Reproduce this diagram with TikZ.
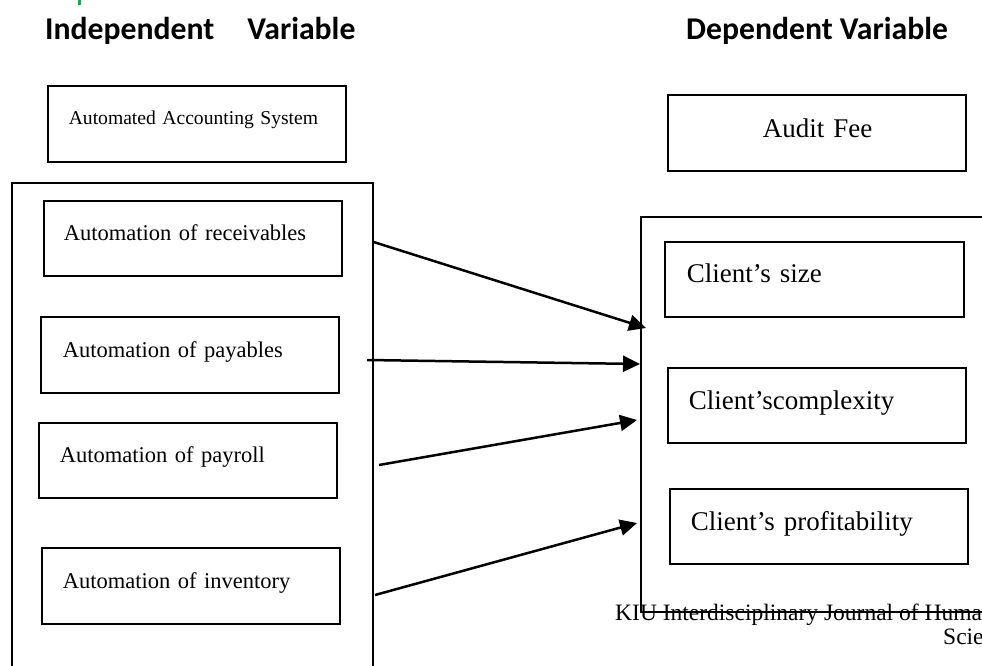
\documentclass[tikz,border=0pt]{standalone}
\usepackage{fontspec}
\setmainfont{Liberation Serif}
\newfontfamily\headfont{Carlito}
\usetikzlibrary{arrows.meta}
\definecolor{markgreen}{RGB}{0,176,80}
\begin{document}
\begin{tikzpicture}[x=1pt,y=-1pt,
  bx/.style={draw=black,line width=1.6pt,inner sep=0pt,anchor=north west,align=left},
  outerbox/.style={draw=black,line width=1.6pt,inner sep=0pt,anchor=north west},
  smalltxt/.style={font=\fontsize{22.5}{27}\selectfont},
  bigtxt/.style={font=\fontsize{27}{32}\selectfont},
  head/.style={font=\headfont\bfseries\fontsize{31.7}{36}\selectfont,inner sep=0pt,anchor=base west},
  arr/.style={line width=2.5pt,-{Triangle[length=17pt,width=16pt]}}]
\useasboundingbox (0,0) rectangle (982,666);
\clip (0,0) rectangle (982,666);
\fill[markgreen] (78,0) rectangle (81,5);
\node[head] (hl) at (45,40) {Independent\hspace{33pt}Variable};
\node[head] (hr) at (686,40) {Dependent Variable};
% left side
\node[bx,font=\fontsize{19.6}{24}\selectfont,text width=298pt,text height=39pt,text depth=37pt] (aas) at (47,85) {\hspace*{21pt}Automated Accounting System};
\node[outerbox,minimum width=361pt,minimum height=540pt] (L) at (11,182) {};
\node[bx,smalltxt,text width=298pt,text height=40pt,text depth=35pt] (rec) at (43,200) {\hspace*{20pt}Automation of receivables};
\node[bx,smalltxt,text width=298pt,text height=41pt,text depth=35pt] (pay) at (40,316) {\hspace*{22pt}Automation of payables};
\node[bx,smalltxt,text width=298pt,text height=40pt,text depth=35pt] (pr) at (38,422) {\hspace*{21pt}Automation of payroll};
\node[bx,smalltxt,text width=298pt,text height=41pt,text depth=35pt] (inv) at (41,547) {\hspace*{21pt}Automation of inventory};
% right side
\node[bx,bigtxt,text width=298pt,text height=43pt,text depth=33pt] (fee) at (667,94) {\hspace*{95pt}Audit Fee};
\node[outerbox,minimum width=400pt,minimum height=395pt] (R) at (640,216) {};
\node[bx,bigtxt,text width=299pt,text height=41pt,text depth=34pt] (size) at (664,241) {\hspace*{22pt}Client’s size};
\node[bx,bigtxt,text width=298pt,text height=42pt,text depth=33pt] (cx) at (667,367) {\hspace*{21pt}Client’scomplexity};
\node[bx,bigtxt,text width=298pt,text height=42pt,text depth=33pt] (prof) at (669,488) {\hspace*{21pt}Client’s profitability};
% footer text
\node[font=\fontsize{23.5}{28}\selectfont,inner sep=0pt,anchor=base west] (j1) at (615,620) {KIU Interdisciplinary Journal of Huma};
\node[font=\fontsize{23.5}{28}\selectfont,inner sep=0pt,anchor=base west] (j2) at (943,644) {Scie};
% connector end points on the outer boxes
\coordinate (s1) at (L.east |- 0,242);
\coordinate (s2) at (367,360);
\coordinate (s3) at (379,465);
\coordinate (s4) at (375,595);
\coordinate (e1) at (646,328);
\coordinate (e2) at (R.west |- 0,364);
\coordinate (e3) at (637,420);
\coordinate (e4) at (637,523);
\draw[arr] (s1) -- (e1);
\draw[arr] (s2) -- (e2);
\draw[arr] (s3) -- (e3);
\draw[arr] (s4) -- (e4);
\end{tikzpicture}
\end{document}
